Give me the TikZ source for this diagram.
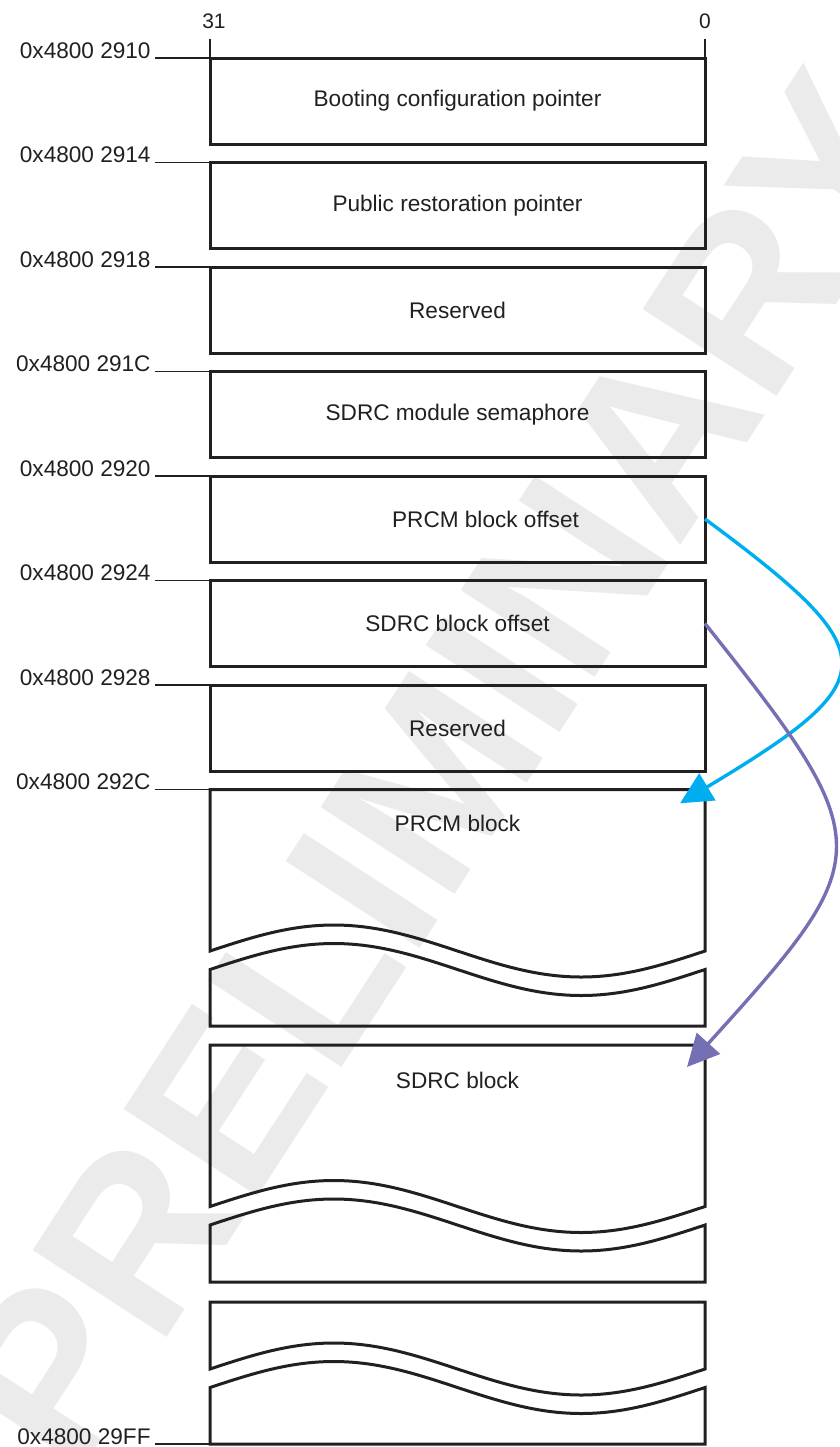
\documentclass[tikz,border=0pt]{standalone}
\usepackage{fontspec}
\setmainfont{Liberation Sans}
\usepackage{xcolor}
\usetikzlibrary{arrows.meta}

\definecolor{ptrcyan}{RGB}{0,174,239}
\definecolor{ptrpurple}{RGB}{117,112,180}
\definecolor{wmgray}{RGB}{235,235,235}
\definecolor{inkblack}{RGB}{35,31,32}

\begin{document}
\begin{tikzpicture}[x=0.5pt, y=-0.5pt,
    every node/.style={font=\fontsize{11.3}{13}\selectfont, text=inkblack},
    regbox/.style={draw=inkblack, line width=1.5pt, minimum width=247.5pt,
      minimum height=43pt, inner sep=0pt, outer sep=0pt},
    brk/.style={draw=inkblack, line width=1.5pt},
    addr/.style={anchor=base east, inner sep=2pt},
    leader/.style={draw=inkblack, line width=0.6pt},
    bitno/.style={font=\fontsize{10.5}{12}\selectfont},
    ptr/.style={line width=1.7pt, -{Triangle[length=16pt, width=15.5pt]}}]
    \useasboundingbox (0,0) rectangle (840,1447);
    \clip (0,0) rectangle (840,1447);

    % Watermark
    \node[rotate=57, text=wmgray, font=\fontsize{116}{116}\selectfont\bfseries]
    (wmark) at (440,770) {PRELIMINARY};

    % Bit numbers
    \node[bitno] (msb) at (214,21) {31};
    \node[bitno] (lsb) at (705,21) {0};

    % Fixed 32-bit entries
    \foreach \a/\b/\txt [count=\i from 0] in {2910/bootptr/Booting configuration pointer,
        2914/pubptr/Public restoration pointer, 2918/rsvda/Reserved,
        291C/sdrcsem/SDRC module semaphore, 2920/prcmoff/\hspace{28pt}PRCM block offset,
        2924/sdrcoff/SDRC block offset, 2928/rsvdb/Reserved} {
      \node[regbox] (\b) at (457.5,{58+104.5*\i+43}) {\txt};
      \node[addr] (a\a) at (155,{58+104.5*\i}) {0x4800 \a};
      \draw[leader] (a\a.base east) -- (\b.north west);
    }
    \draw[leader] (bootptr.north west) -- ++(0,-19);
    \draw[leader] (bootptr.north east) -- ++(0,-19);

    % Blocks of variable length (top / break / bottom)
    \foreach \top/\yb/\bot in {789.5/951/1026, 1045/1206.5/1282, 1302/1369/1444} {
      \draw[brk] (210,\yb) sin (333.75,{\yb-26}) cos (457.5,\yb)
      sin (581.25,{\yb+26}) cos (705,\yb) -- (705,\top) -- (210,\top) -- cycle;
      \draw[brk] (210,{\yb+18.5}) sin (333.75,{\yb-7.5}) cos (457.5,{\yb+18.5})
      sin (581.25,{\yb+44.5}) cos (705,{\yb+18.5}) -- (705,\bot) -- (210,\bot) -- cycle;
    }
    \node (prcmblk) at (457.5,823) {PRCM block};
    \node (sdrcblk) at (457.5,1080) {SDRC block};

    % Start and end addresses of the blocks
    \coordinate (prcmnw) at (210,789.5);
    \coordinate (lastsw) at (210,1444);
    \node[addr] (a292C) at (155,789.5) {0x4800 292C};
    \node[addr] (a29FF) at (155,1444) {0x4800 29FF};
    \draw[leader] (a292C.base east) -- (prcmnw);
    \draw[leader] (a29FF.base east) -- (lastsw);

    % Offset pointers
    \coordinate (prcmtip) at (680,803.3);
    \coordinate (sdrctip) at (687,1067);
    \draw[ptr, ptrcyan] (prcmoff.east) .. controls (889,655) and (885.7,679.6) .. (prcmtip);
    \draw[ptr, ptrpurple] (sdrcoff.east) .. controls (881.7,845.3) and (878,856) .. (sdrctip);
\end{tikzpicture}
\end{document}
